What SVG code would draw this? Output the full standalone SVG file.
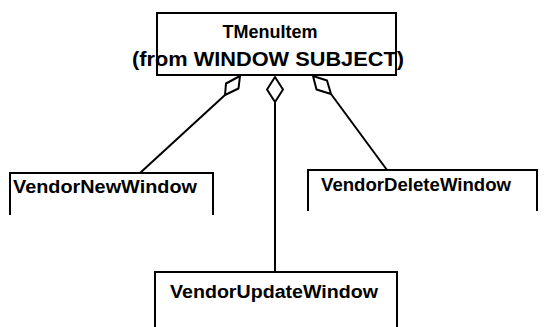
<svg xmlns="http://www.w3.org/2000/svg" width="552" height="327" viewBox="0 0 552 327">
<style>
.box{fill:none;stroke:#000;stroke-width:2}
.ln{fill:none;stroke:#000;stroke-width:2}
.dia{fill:#fff;stroke:#000;stroke-width:2;stroke-linejoin:round}
text{font-family:"Liberation Sans",Arial,sans-serif;font-weight:bold;fill:#000}
</style>
<rect width="552" height="327" fill="#fff"/>
<g id="connectors">
<line class="ln" x1="140" y1="173" x2="225" y2="95"/>
<line class="ln" x1="275" y1="102" x2="275" y2="272"/>
<line class="ln" x1="331" y1="94" x2="387" y2="170"/>
<polygon class="dia" points="225,95 226,83.5 240,76 238.5,88.5"/>
<polygon class="dia" points="275,77 283,89.5 275,102 267,89.5"/>
<polygon class="dia" points="313,76 327,80.5 331,94 316.5,89.5"/>
</g>
<g id="TMenuItem">
<rect class="box" x="157" y="13" width="239" height="62"/>
<text x="270" y="38" font-size="18" text-anchor="middle" textLength="95" lengthAdjust="spacingAndGlyphs">TMenuItem</text>
<text x="268" y="66" font-size="20" text-anchor="middle" textLength="272" lengthAdjust="spacingAndGlyphs">(from WINDOW SUBJECT)</text>
</g>
<g id="VendorNewWindow">
<path class="box" d="M10,215 V173 H213 V215"/>
<text x="13" y="193" font-size="18" textLength="184" lengthAdjust="spacingAndGlyphs">VendorNewWindow</text>
</g>
<g id="VendorDeleteWindow">
<path class="box" d="M308,211 V170 H537 V211"/>
<text x="321" y="191" font-size="18" textLength="190" lengthAdjust="spacingAndGlyphs">VendorDeleteWindow</text>
</g>
<g id="VendorUpdateWindow">
<path class="box" d="M155,327 V272 H397 V327"/>
<text x="170" y="298" font-size="18" textLength="208" lengthAdjust="spacingAndGlyphs">VendorUpdateWindow</text>
</g>
</svg>
